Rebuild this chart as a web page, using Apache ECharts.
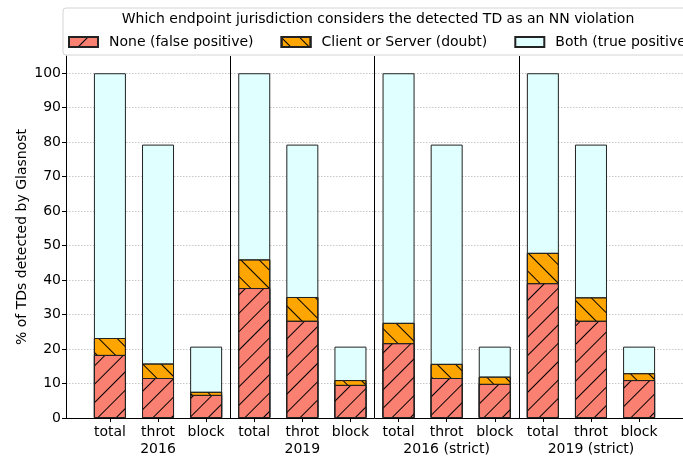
<!DOCTYPE html>
<html>
<head>
<meta charset="utf-8">
<script src="https://cdn.jsdelivr.net/npm/echarts@6/dist/echarts.min.js"></script>
<style>
  html, body { margin: 0; padding: 0; background: #fff; }
  #chart { width: 683px; height: 457px; }
</style>
</head>
<body>
<div id="chart"></div>
<script>
// Bar labels (one per bar) and the dataset under each group of three bars
const barNames = ['total', 'throt', 'block', 'total', 'throt', 'block',
                  'total', 'throt', 'block', 'total', 'throt', 'block'];
const groupNames = ['2016', '2019', '2016 (strict)', '2019 (strict)'];

// Stacked segment heights, % of TDs detected by Glasnost
const noneFalsePositive = [18.3, 11.6, 6.7, 37.7, 28.2, 9.6, 21.7, 11.6, 9.9, 39.1, 28.2, 11.0];
const clientOrServer    = [4.9, 4.2, 0.9, 8.3, 6.9, 1.4, 5.9, 4.1, 2.1, 8.8, 6.8, 2.0];
const bothTruePositive  = [76.8, 63.5, 13.1, 54.0, 44.2, 9.7, 72.4, 63.6, 8.7, 52.1, 44.3, 7.7];

const yTicks = [0, 10, 20, 30, 40, 50, 60, 70, 80, 90, 100];
const groupSeparators = [2.5, 5.5, 8.5];

const legendTitle = 'Which endpoint jurisdiction considers the detected TD as an NN violation';
const seriesNames = ['None (false positive)', 'Client or Server (doubt)', 'Both (true positive)'];

const FONT = 'DejaVu Sans';
const FS = 14;
const positions = barNames.map((_, i) => i);
const groupCenters = groupNames.map((_, g) => g * 3 + 1);

// Each bar is drawn from zero to the top of its segment; later series sit in
// front, so the visible part of every bar is exactly its own segment.
const cumulative = (...parts) => positions.map(i => parts.reduce((s, p) => s + p[i], 0));
const asPoints = arr => arr.map((v, i) => [i, +v.toFixed(2)]);

function hatch(rotation) {
  return {
    symbol: 'rect',
    symbolSize: 1,
    color: '#000',
    dashArrayX: [1, 0],
    dashArrayY: [0.9, 11.1],
    rotation: rotation
  };
}

const edge = { borderColor: '#222', borderWidth: 1 };
const X_MIN = -0.913, X_MAX = 11.913;

const chart = echarts.init(document.getElementById('chart'), null, { renderer: 'canvas' });

chart.setOption({
  animation: false,
  textStyle: { fontFamily: FONT, color: '#000' },
  grid: { left: 66, right: -7, top: 56, bottom: 39 },
  graphic: [
    {
      type: 'rect',
      z: 15,
      shape: { x: 63, y: 8, width: 630, height: 47, r: 3 },
      style: { fill: 'rgba(255,255,255,0.85)', stroke: '#d4d4d4', lineWidth: 1 }
    },
    {
      type: 'text',
      z: 16,
      x: 378,
      y: 19,
      style: {
        text: legendTitle,
        font: FS + 'px "' + FONT + '"',
        fill: '#000',
        align: 'center',
        verticalAlign: 'middle'
      }
    }
  ],
  legend: {
    z: 20,
    left: 68,
    top: 35,
    padding: 0,
    width: 900,
    icon: 'rect',
    itemWidth: 29,
    itemHeight: 10,
    itemGap: 27,
    textStyle: { fontFamily: FONT, fontSize: FS, color: '#000', padding: [0, 0, 0, 6] },
    data: seriesNames
  },
  xAxis: [
    {
      type: 'value',
      min: X_MIN,
      max: X_MAX,
      splitLine: { show: false },
      axisLine: { onZero: false, lineStyle: { color: '#000', width: 1 } },
      axisTick: { customValues: positions, length: 4, lineStyle: { color: '#000' } },
      axisLabel: {
        customValues: positions,
        showMinLabel: true,
        showMaxLabel: true,
        hideOverlap: false,
        margin: 7,
        fontFamily: FONT,
        fontSize: FS,
        color: '#000',
        formatter: v => barNames[Math.round(v)]
      }
    },
    {
      // second label row: the dataset name under the middle bar of each group
      type: 'value',
      position: 'bottom',
      offset: 17,
      min: X_MIN,
      max: X_MAX,
      splitLine: { show: false },
      axisLine: { show: false, onZero: false },
      axisTick: { show: false },
      axisLabel: {
        customValues: groupCenters,
        hideOverlap: false,
        margin: 7,
        fontFamily: FONT,
        fontSize: FS,
        color: '#000',
        formatter: v => groupNames[(Math.round(v) - 1) / 3]
      }
    }
  ],
  yAxis: {
    type: 'value',
    min: 0,
    max: 105,
    interval: 10,
    name: '% of TDs detected by Glasnost',
    nameLocation: 'middle',
    nameRotate: 90,
    nameGap: 37,
    nameMoveOverlap: false,
    nameTextStyle: { fontFamily: FONT, fontSize: FS, color: '#000' },
    axisLine: { show: true, onZero: false, lineStyle: { color: '#000', width: 1 } },
    axisTick: { show: true, customValues: yTicks, length: 4, lineStyle: { color: '#000' } },
    axisLabel: { customValues: yTicks, margin: 5, fontFamily: FONT, fontSize: FS, color: '#000' },
    splitLine: { show: true, lineStyle: { color: '#c8c8c8', type: [1.5, 1.5], width: 1 } }
  },
  series: [
    {
      name: seriesNames[2],
      type: 'bar',
      barWidth: 32,
      barGap: '-100%',
      data: asPoints(cumulative(noneFalsePositive, clientOrServer, bothTruePositive)),
      itemStyle: Object.assign({ color: '#E0FFFF' }, edge),
      markLine: {
        silent: true,
        symbol: 'none',
        label: { show: false },
        lineStyle: { color: '#000', type: 'solid', width: 1 },
        data: groupSeparators.map(x => ({ xAxis: x }))
      }
    },
    {
      name: seriesNames[1],
      type: 'bar',
      barWidth: 32,
      barGap: '-100%',
      data: asPoints(cumulative(noneFalsePositive, clientOrServer)),
      itemStyle: Object.assign({ color: '#FFA500', decal: hatch(Math.PI / 4) }, edge)
    },
    {
      name: seriesNames[0],
      type: 'bar',
      barWidth: 32,
      barGap: '-100%',
      data: asPoints(noneFalsePositive),
      itemStyle: Object.assign({ color: '#FA8072', decal: hatch(-Math.PI / 4) }, edge)
    }
  ]
});
</script>
</body>
</html>
